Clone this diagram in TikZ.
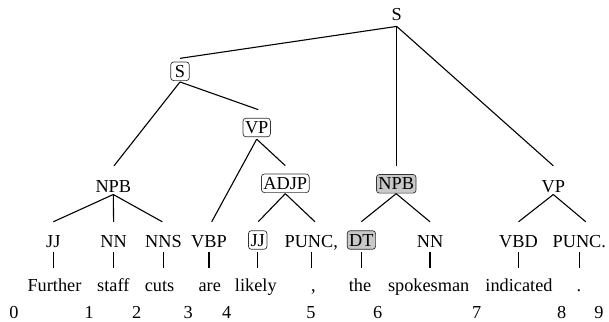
\documentclass[tikz,border=0pt]{standalone}
\usepackage{fontspec}
\setmainfont{Liberation Serif}
\definecolor{shadegray}{RGB}{200,200,200}
\begin{document}
\begin{tikzpicture}[x=1pt,y=-1pt,
  every node/.style={font=\rmfamily\fontsize{18.3}{22}\selectfont, inner xsep=2pt, inner ysep=3.3pt, text height=12pt, text depth=0pt},
  boxed/.style={draw=black!80, rounded corners=3pt, line width=0.7pt, minimum width=18.6pt},
  shaded/.style={boxed, fill=shadegray},
  word/.style={anchor=base},
  idx/.style={anchor=base},
  edge/.style={line width=1.1pt},
  vline/.style={edge, shorten <=1.4pt, shorten >=8.1pt},
  vlineb/.style={edge, shorten <=2.4pt, shorten >=8.1pt}
]
\useasboundingbox (0,0) rectangle (609,321);
% phrase nodes
\node (s) at (396.7,14.2) {S};
\node[boxed] (s2) at (180,71.3) {S};
\node[boxed] (vp1) at (256.7,127.5) {VP};
\node (npb1) at (113.3,186) {NPB};
\node[boxed] (adjp) at (285.3,183.3) {ADJP};
\node[shaded] (npb2) at (396.2,183.8) {NPB};
\node (vp2) at (553.3,186) {VP};
% POS nodes
\node (jj1) at (53.3,241) {JJ};
\node (nn1) at (113.6,241) {NN};
\node (nns) at (163.5,241) {NNS};
\node (vbp) at (209,241) {VBP};
\node[boxed] (jj2) at (257.7,240) {JJ};
\node (punc1) at (311.3,241) {PUNC,};
\node[shaded] (dt) at (361.4,240) {DT};
\node (nn2) at (430,241) {NN};
\node (vbd) at (518.5,241) {VBD};
\node (punc2) at (579.3,241) {PUNC.};
% words
\node[word] (w1) at (54.5,291.7) {Further};
\node[word] (w2) at (113.3,291.7) {staff};
\node[word] (w3) at (159.5,291.7) {cuts};
\node[word] (w4) at (209.7,291.7) {are};
\node[word] (w5) at (255.8,291.7) {likely};
\node[word] (w6) at (313.3,291.7) {,};
\node[word] (w7) at (360,291.7) {the};
\node[word] (w8) at (428.7,291.7) {spokesman};
\node[word] (w9) at (519,291.7) {indicated};
\node[word] (w10) at (579,291.7) {.};
% indices
\node[idx] (i0) at (14,318.3) {0};
\node[idx] (i1) at (89.3,318.3) {1};
\node[idx] (i2) at (136.7,318.3) {2};
\node[idx] (i3) at (188.3,318.3) {3};
\node[idx] (i4) at (226.7,318.3) {4};
\node[idx] (i5) at (311,318.3) {5};
\node[idx] (i6) at (377.7,318.3) {6};
\node[idx] (i7) at (476.7,318.3) {7};
\node[idx] (i8) at (561.7,318.3) {8};
\node[idx] (i9) at (599,318.3) {9};
% tree edges
\draw[edge] ([yshift=-2.7pt]s.south) -- ([yshift=3.3pt]s2.north);
\draw[edge] ([yshift=-2.7pt]s.south) -- ([xshift=0.5pt,yshift=8.5pt]npb2.north);
\draw[edge] ([yshift=-2.7pt]s.south) -- ([yshift=10.7pt]vp2.north);
\draw[edge] ([yshift=-1pt]s2.south) -- ([xshift=0.7pt,yshift=10.7pt]npb1.north);
\draw[edge] ([yshift=-1pt]s2.south) -- ([xshift=1.6pt,yshift=8.2pt]vp1.north);
\draw[edge] ([yshift=-2pt]vp1.south) -- ([xshift=2.7pt,yshift=9.7pt]vbp.north);
\draw[edge] ([yshift=-2pt]vp1.south) -- ([yshift=8pt]adjp.north);
\draw[edge] ([yshift=1pt]npb1.south) -- ([yshift=9.7pt]jj1.north);
\draw[edge] ([yshift=1pt]npb1.south) -- ([yshift=9.7pt]nn1.north);
\draw[edge] ([yshift=1pt]npb1.south) -- ([xshift=-1.2pt,yshift=9.7pt]nns.north);
\draw[edge] ([yshift=-0.7pt]adjp.south) -- ([xshift=0.6pt,yshift=8.7pt]jj2.north);
\draw[edge] ([yshift=-0.7pt]adjp.south) -- ([xshift=3.7pt,yshift=9.7pt]punc1.north);
\draw[edge] ([yshift=-0.2pt]npb2.south) -- ([yshift=8.7pt]dt.north);
\draw[edge] ([yshift=-0.2pt]npb2.south) -- ([yshift=9.7pt]nn2.north);
\draw[edge] ([yshift=1pt]vp2.south) -- ([yshift=9.7pt]vbd.north);
\draw[edge] ([yshift=1pt]vp2.south) -- ([xshift=6.5pt,yshift=9.7pt]punc2.north);
% POS to word
\draw[vline] (jj1.south) -- (jj1.south |- w1.north);
\draw[vline] (nn1.south) -- (nn1.south |- w2.north);
\draw[vline] (nns.south) -- (nns.south |- w3.north);
\draw[vline] (vbp.south) -- (vbp.south |- w4.north);
\draw[vlineb] (jj2.south) -- (jj2.south |- w5.north);
\draw[vline] (punc1.south) -- (punc1.south |- w6.north);
\draw[vlineb] (dt.south) -- (dt.south |- w7.north);
\draw[vline] (nn2.south) -- (nn2.south |- w8.north);
\draw[vline] (vbd.south) -- (vbd.south |- w9.north);
\draw[vline] (punc2.south) -- (punc2.south |- w10.north);
\end{tikzpicture}
\end{document}
